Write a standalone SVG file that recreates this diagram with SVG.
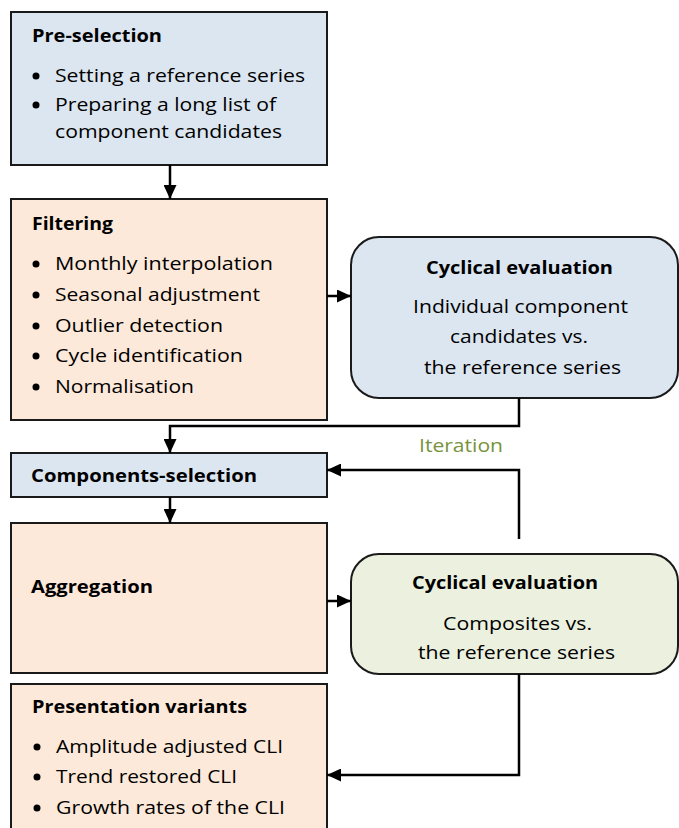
<svg xmlns="http://www.w3.org/2000/svg" width="679" height="828" viewBox="0 0 679 828">
<style>
.box{stroke:#1a1a1a;stroke-width:2}
.blue{fill:#dce6f1}
.peach{fill:#fde9d9}
.green{fill:#ebf1de}
text{font-family:"Open Sans","Noto Sans","Liberation Sans",sans-serif;font-size:18px;fill:#000}
.b{font-weight:bold}
.it{fill:#77933c}
.bul{fill:#000}
.con{fill:none;stroke:#000;stroke-width:2.5}
</style>
<defs>
<marker id="ah" viewBox="0 0 14 13" refX="14" refY="6.5" markerWidth="14" markerHeight="13" markerUnits="userSpaceOnUse" orient="auto">
<path d="M0,0 L14,6.5 L0,13 z" fill="#000"/>
</marker>
</defs>

<g id="pre-selection">
<rect class="box blue" x="11" y="12" width="316" height="153"/>
<text class="b" x="32" y="42" textLength="130" lengthAdjust="spacingAndGlyphs">Pre-selection</text>
<circle class="bul" cx="36" cy="76" r="3.5"/>
<text x="55" y="82" textLength="250" lengthAdjust="spacingAndGlyphs">Setting a reference series</text>
<circle class="bul" cx="36" cy="105" r="3.5"/>
<text x="55" y="111" textLength="221" lengthAdjust="spacingAndGlyphs">Preparing a long list of</text>
<text x="55" y="138" textLength="227" lengthAdjust="spacingAndGlyphs">component candidates</text>
</g>

<g id="filtering">
<rect class="box peach" x="11" y="199" width="316" height="221"/>
<text class="b" x="32" y="230" textLength="81" lengthAdjust="spacingAndGlyphs">Filtering</text>
<circle class="bul" cx="36" cy="264" r="3.5"/>
<text x="55" y="270" textLength="218" lengthAdjust="spacingAndGlyphs">Monthly interpolation</text>
<circle class="bul" cx="36" cy="295" r="3.5"/>
<text x="55" y="301" textLength="205" lengthAdjust="spacingAndGlyphs">Seasonal adjustment</text>
<circle class="bul" cx="36" cy="326" r="3.5"/>
<text x="55" y="332" textLength="168" lengthAdjust="spacingAndGlyphs">Outlier detection</text>
<circle class="bul" cx="36" cy="356" r="3.5"/>
<text x="55" y="362" textLength="188" lengthAdjust="spacingAndGlyphs">Cycle identification</text>
<circle class="bul" cx="36" cy="387" r="3.5"/>
<text x="55" y="393" textLength="139" lengthAdjust="spacingAndGlyphs">Normalisation</text>
</g>

<g id="cyclical-evaluation-1">
<rect class="box blue" x="351" y="237" width="327" height="161" rx="28" ry="28"/>
<text class="b" x="426" y="274" textLength="187" lengthAdjust="spacingAndGlyphs">Cyclical evaluation</text>
<text x="413" y="313" textLength="215" lengthAdjust="spacingAndGlyphs">Individual component</text>
<text x="450" y="343" textLength="138" lengthAdjust="spacingAndGlyphs">candidates vs.</text>
<text x="424" y="374" textLength="197" lengthAdjust="spacingAndGlyphs">the reference series</text>
</g>

<g id="components-selection">
<rect class="box blue" x="11" y="453" width="316" height="44"/>
<text class="b" x="31" y="482" textLength="226" lengthAdjust="spacingAndGlyphs">Components-selection</text>
</g>

<g id="aggregation">
<rect class="box peach" x="11" y="523" width="316" height="150"/>
<text class="b" x="31" y="593" textLength="122" lengthAdjust="spacingAndGlyphs">Aggregation</text>
</g>

<g id="cyclical-evaluation-2">
<rect class="box green" x="351" y="554" width="327" height="120" rx="28" ry="28"/>
<text class="b" x="412" y="589" textLength="186" lengthAdjust="spacingAndGlyphs">Cyclical evaluation</text>
<text x="443" y="630" textLength="149" lengthAdjust="spacingAndGlyphs">Composites vs.</text>
<text x="418" y="659" textLength="197" lengthAdjust="spacingAndGlyphs">the reference series</text>
</g>

<g id="presentation-variants">
<rect class="box peach" x="11" y="684" width="316" height="160"/>
<text class="b" x="32" y="713" textLength="215" lengthAdjust="spacingAndGlyphs">Presentation variants</text>
<circle class="bul" cx="37" cy="747" r="3.5"/>
<text x="56" y="753" textLength="227" lengthAdjust="spacingAndGlyphs">Amplitude adjusted CLI</text>
<circle class="bul" cx="37" cy="777" r="3.5"/>
<text x="56" y="783" textLength="181" lengthAdjust="spacingAndGlyphs">Trend restored CLI</text>
<circle class="bul" cx="37" cy="808" r="3.5"/>
<text x="56" y="814" textLength="229" lengthAdjust="spacingAndGlyphs">Growth rates of the CLI</text>
</g>

<g id="connectors">
<path class="con" d="M170,165 L170,199" marker-end="url(#ah)"/>
<path class="con" d="M327,296 L351,296" marker-end="url(#ah)"/>
<path class="con" d="M519,398 L519,426 L170,426 L170,453" marker-end="url(#ah)"/>
<path class="con" d="M170,497 L170,523" marker-end="url(#ah)"/>
<path class="con" d="M327,601 L351,601" marker-end="url(#ah)"/>
<path class="con" d="M519,539 L519,470 L327,470" marker-end="url(#ah)"/>
<text class="it" x="419" y="452" textLength="84" lengthAdjust="spacingAndGlyphs">Iteration</text>
<path class="con" d="M519,674 L519,775 L327,775" marker-end="url(#ah)"/>
</g>
</svg>
